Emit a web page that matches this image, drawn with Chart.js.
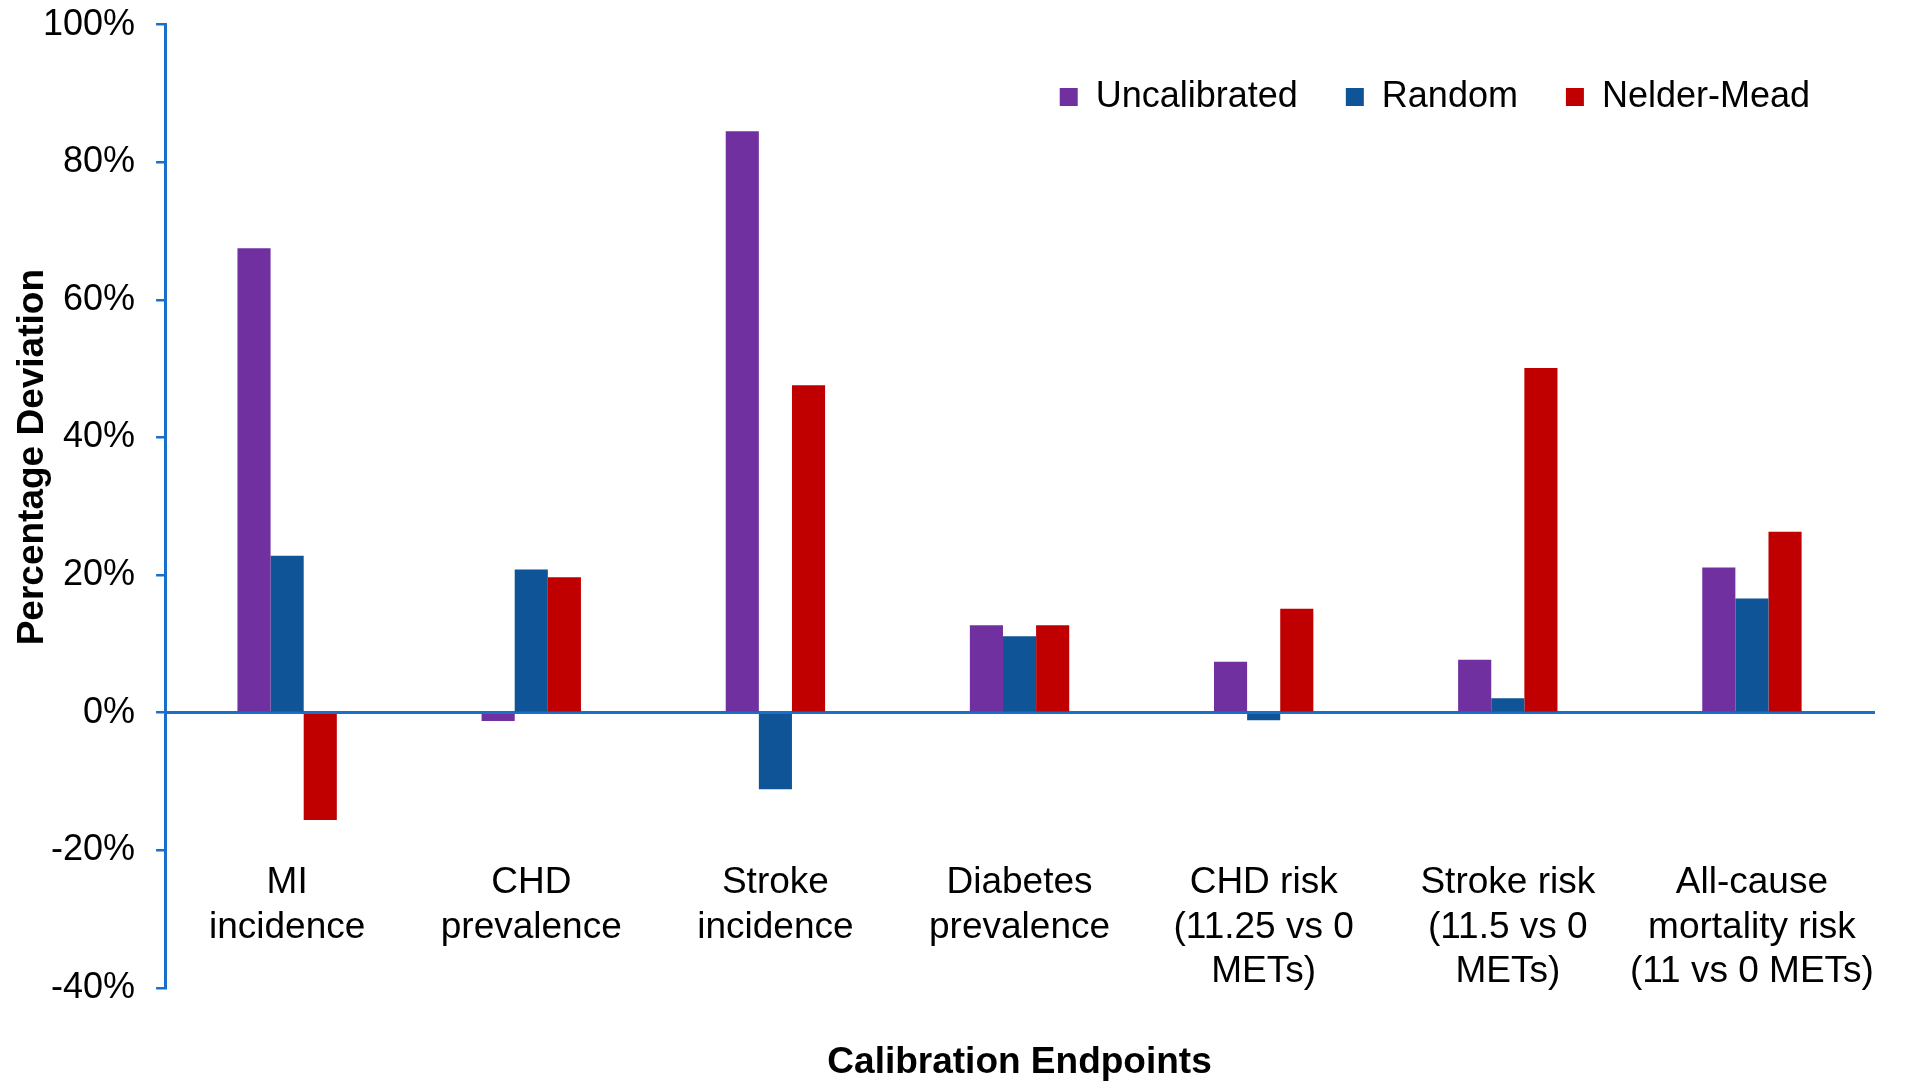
<!DOCTYPE html>
<html>
<head>
<meta charset="utf-8">
<script src="https://cdn.jsdelivr.net/npm/chart.js@4/dist/chart.umd.min.js"></script>
<style>
  html, body { margin: 0; padding: 0; background: #fff; }
  #wrap { width: 1926px; height: 1081px; position: relative; }
</style>
</head>
<body>
<div id="wrap"><canvas id="calChart"></canvas></div>
<script>
const categories = [
  ["MI", "incidence"],
  ["CHD", "prevalence"],
  ["Stroke", "incidence"],
  ["Diabetes", "prevalence"],
  ["CHD risk", "(11.25 vs 0", "METs)"],
  ["Stroke risk", "(11.5 vs 0", "METs)"],
  ["All-cause", "mortality risk", "(11 vs 0 METs)"]
];
const uncalibrated = [67.5, -1.2, 84.5, 12.7, 7.4, 7.7, 21.1];
const random = [22.8, 20.8, -11.1, 11.1, -1.1, 2.1, 16.6];
const nelderMead = [-15.6, 19.7, 47.6, 12.7, 15.1, 50.1, 26.3];
const yTicks = [-40, -20, 0, 20, 40, 60, 80, 100];

const AXIS_BLUE = "#1a70c8";
const FONT = "'Liberation Sans', Arial, sans-serif";

Chart.defaults.font.family = FONT;
Chart.defaults.color = "#000";

// y-axis title drawn by hand so it can sit a bit above the plot centre, like the original
const yTitlePlugin = {
  id: "yTitle",
  afterDraw(chart) {
    const { ctx, chartArea } = chart;
    const y = chartArea.top + (chartArea.bottom - chartArea.top) * 0.449;
    ctx.save();
    ctx.translate(33, y);
    ctx.rotate(-Math.PI / 2);
    ctx.font = `bold 37px ${FONT}`;
    ctx.fillStyle = "#000";
    ctx.textAlign = "center";
    ctx.textBaseline = "middle";
    ctx.fillText("Percentage Deviation", 0, 0);
    ctx.restore();
  }
};

// legend sits inside the plot (top right), so it must not take layout space
const floatingLegend = {
  id: "floatingLegend",
  beforeLayout(chart) {
    const legend = chart.legend;
    if (!legend || legend._floatPatched) return;
    const origFit = legend.fit;
    legend.fit = function () {
      origFit.call(this);
      this.height = 0;
    };
    legend._floatPatched = true;
  },
  afterLayout(chart) {
    const legend = chart.legend;
    if (!legend) return;
    legend.top = 31;
    legend.height = 130;
    legend.bottom = legend.top + legend.height;
    legend.right = chart.chartArea.right - 16;
    legend.width = legend.right - legend.left;
  }
};

new Chart(document.getElementById("calChart"), {
  type: "bar",
  data: {
    labels: categories,
    datasets: [
      { label: "Uncalibrated", data: uncalibrated, backgroundColor: "#7030a0" },
      { label: "Random", data: random, backgroundColor: "#0f5496" },
      { label: "Nelder-Mead", data: nelderMead, backgroundColor: "#c00000" }
    ]
  },
  options: {
    responsive: true,
    maintainAspectRatio: false,
    animation: false,
    layout: { padding: { top: 24, left: 22, right: 52, bottom: 0 } },
    datasets: {
      bar: { categoryPercentage: 0.407, barPercentage: 1.0, borderWidth: 0 }
    },
    scales: {
      x: {
        position: { y: 0 },
        grid: {
          display: true,
          drawOnChartArea: false,
          drawTicks: true,
          tickLength: 148,
          color: "rgba(0,0,0,0)"
        },
        border: { display: true, color: AXIS_BLUE, width: 3 },
        ticks: {
          font: { size: 37 },
          color: "#000",
          padding: 0,
          autoSkip: false,
          maxRotation: 0,
          minRotation: 0
        }
      },
      y: {
        min: -40,
        max: 100,
        afterBuildTicks(scale) {
          scale.ticks = yTicks.map((v) => ({ value: v }));
        },
        grid: {
          drawOnChartArea: false,
          drawTicks: true,
          tickLength: 9,
          color: AXIS_BLUE,
          lineWidth: 2.5
        },
        border: { display: true, color: AXIS_BLUE, width: 3 },
        ticks: {
          font: { size: 36, lineHeight: 0.2 },
          color: "#000",
          padding: 21,
          callback: (v) => `${v}%`
        }
      }
    },
    plugins: {
      legend: {
        position: "top",
        align: "end",
        labels: {
          boxWidth: 18,
          boxHeight: 18,
          padding: 48,
          font: { size: 36 },
          color: "#000"
        }
      },
      title: {
        display: true,
        position: "bottom",
        fullSize: false,
        text: "Calibration Endpoints",
        font: { size: 37, weight: "bold", lineHeight: 1 },
        color: "#000",
        padding: { top: 56, bottom: 0 }
      },
      tooltip: { enabled: false }
    }
  },
  plugins: [floatingLegend, yTitlePlugin]
});
</script>
</body>
</html>
